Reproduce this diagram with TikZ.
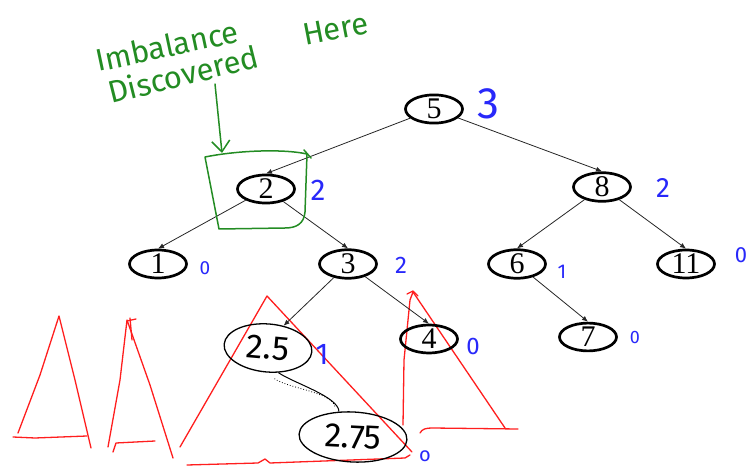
\documentclass[tikz,border=0pt]{standalone}
\usepackage{fontspec}
\setmainfont{Liberation Serif}
\newfontfamily\hand{Fira Sans}
\usetikzlibrary{arrows.meta,shapes.geometric,calc}
\definecolor{hblue}{RGB}{40,40,250}
\definecolor{hgreen}{RGB}{35,140,35}
\definecolor{hred}{RGB}{255,30,30}
\begin{document}
\begin{tikzpicture}[x=1pt,y=-1pt,
  tnode/.style={ellipse, draw=black, line width=2.7pt, minimum width=57pt, minimum height=26.5pt, inner sep=0pt, font=\fontsize{30}{30}\selectfont},
  hnode/.style={ellipse, draw=black, line width=1.3pt, inner sep=0pt, font=\hand\fontsize{34}{34}\selectfont},
  edge/.style={line width=0.8pt, draw=black!85, -{Latex[length=6pt,width=5pt]}},
  bal/.style={text=hblue, inner sep=0pt, font=\hand\fontsize{#1}{#1}\selectfont},
  gtext/.style={text=hgreen, inner sep=0pt, anchor=base west, font=\hand\fontsize{31}{31}\selectfont},
  gline/.style={draw=hgreen, line width=1.5pt, line cap=round, line join=round},
  rline/.style={draw=hred, line width=1.3pt, line cap=round, line join=round},
]
\useasboundingbox (0,0) rectangle (750,470);

% red sketches (behind)
\draw[rline] (18,433) -- (40,375) -- (59,316) -- (75,380) -- (91,448);
\draw[rline] (13,437) -- (35,438) -- (87,436);
\draw[rline] (108,447) -- (120,380) -- (127,320) -- (150,385) -- (173,458);
\draw[rline] (130,318) -- (132,340);
\draw[rline] (127,321) -- (136,319);
\draw[rline] (113,452) -- (116,443) -- (155,441);
\draw[rline] (180,447) -- (267,296) -- (412,452);
\draw[rline] (187,465) -- (258,463) -- (265,459) -- (270,463) -- (405,458) -- (410,455);
\draw[rline] (403,425) -- (404,360) -- (410,300) -- (413,292);
\draw[rline] (407,294) -- (413,291) -- (418,296);
\draw[rline] (413,292) -- (505,428);
\draw[rline] (420,433) .. controls (422,429) and (426,428) .. (432,428) -- (518,429);

% tree nodes
\node[tnode] (n5) at (434,109) {5};
\node[tnode] (n2) at (266,189) {2};
\node[tnode] (n8) at (602,187) {8};
\node[tnode] (n1) at (158,264) {1};
\node[tnode] (n3) at (348,264) {3};
\node[tnode] (n6) at (517,264) {6};
\node[tnode] (n11) at (686,264) {11};
\node[tnode] (n4) at (429,339) {4};
\node[tnode] (n7) at (588,337) {7};
\node[hnode, minimum width=88pt, minimum height=48pt, rotate=-5] (n25) at (268,348) {2.5};
\node[hnode, minimum width=108pt, minimum height=50pt, rotate=-3] (n275) at (353,437) {2.75};

% edges
\draw[edge] (n5) -- (n2.north);
\draw[edge] (n5) -- (n8.north);
\draw[edge] (n2) -- (n1.north);
\draw[edge] (n2) -- (n3.north);
\draw[edge] (n8) -- (n6.north);
\draw[edge] (n8) -- (n11.north);
\draw[edge] (n3) -- (n25.60);
\draw[edge] (n3) -- (n4.north);
\draw[edge] (n6) -- (n7.north);
\draw[line width=1pt] (n25.-62) .. controls +(14,10) and +(0,-15) .. (n275.122);
\draw[line width=0.8pt, dotted] ($(n25.-62)+(-4,6)$) .. controls +(14,10) and +(0,-15) .. ($(n275.122)+(-4,-4)$);

% balance factors
\node[bal=44] (b5) at (488,104) {3};
\node[bal=30] (b2) at (318,190) {2};
\node[bal=28] (b8) at (663,188) {2};
\node[bal=19] (b1) at (205,268) {0};
\node[bal=24] (b3) at (401,265) {2};
\node[bal=20] (b6) at (562,272) {1};
\node[bal=22] (b11) at (741,255) {0};
\node[bal=24] (b4) at (473,346) {0};
\node[bal=18] (b7) at (635,337) {0};
\node[bal=30] (b25) at (322,354) {1};
\node[bal=20] (b275) at (425,456) {o};

% green annotation
\node[gtext, rotate=12] (g1) at (98,72) {Imbalance};
\node[gtext, rotate=14] (g2) at (111,104) {Discovered};
\node[gtext, rotate=11] (g3) at (305,46) {Here};
\coordinate (ga) at (215,84);
\coordinate (gb) at (222,153);
\draw[gline, -{Straight Barb[length=11pt,width=18pt]}] (ga) -- (gb);
\draw[gline] (205,157) .. controls (240,150) and (285,149) .. (307,154)
  -- (305,212) .. controls (304,224) and (296,228) .. (285,228)
  -- (219,229) -- cycle;
\draw[gline] (304,150) -- (311,158);
\end{tikzpicture}
\end{document}
